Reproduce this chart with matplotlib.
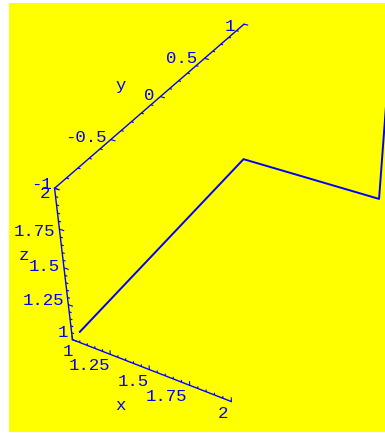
import numpy as np
import matplotlib
matplotlib.use('Agg')
import matplotlib.pyplot as plt
from matplotlib.patches import Rectangle
from matplotlib.transforms import offset_copy
from mpl_toolkits.mplot3d import proj3d
from mpl_toolkits.mplot3d.art3d import Line3DCollection

# polyline through space
curve_x = [1.0, 1.0, 2.0, 2.0]
curve_y = [-0.93, 1.0, 1.0, 0.96]
curve_z = [1.0, 1.0, 1.0, 2.0]

# axis ranges and tick labels
x_range = (1, 2)
y_range = (-1, 1)
z_range = (1, 2)
x_ticks = [1, 1.25, 1.5, 1.75, 2]
x_labels = ['1', '1.25', '1.5', '1.75', '2']
y_ticks = [-1, -0.5, 0, 0.5, 1]
y_labels = ['-1', '-0.5', '0', '0.5', '1']
z_ticks = [1, 1.25, 1.5, 1.75, 2]
z_labels = ['1', '1.25', '1.5', '1.75', '2']

BLUE = '#0000ff'
W, H = 385, 435

fig = plt.figure(figsize=(W / 100, H / 100), dpi=100, facecolor='white')
fig.patches.append(Rectangle((9 / W, 2 / H), 376 / W, 429 / H, transform=fig.transFigure,
                             facecolor='#ffff00', edgecolor='none', zorder=-5))

ax = fig.add_axes([0.05898, 0.05549, 1.09033, 0.96501], projection='3d')
ax.set_axis_off()
ax.set_facecolor('none')
ax.set_xlim(*x_range)
ax.set_ylim(*y_range)
ax.set_zlim(*z_range)
ax.view_init(35.505, -62.083, 0)
ax.set_proj_type('persp', focal_length=0.4865)
ax.set_box_aspect((1, 2.0422, 1.0276))

# the curve
ax.plot(curve_x, curve_y, curve_z, color=BLUE, lw=1.4, clip_on=False)

# axes along the box edges
x0, x1 = x_range
y0, y1 = y_range
z0, z1 = z_range
ax.plot([x0, x1], [y0, y0], [z0, z0], color=BLUE, lw=1.0, clip_on=False)
ax.plot([x0, x0], [y0, y1], [z1, z1], color=BLUE, lw=1.0, clip_on=False)
ax.plot([x0, x0], [y0, y0], [z0, z1], color=BLUE, lw=1.0, clip_on=False)

# tick marks: majors at the labels, four minors in between
segs = []
for v in np.arange(x0, x1 + 1e-9, 0.05):
    ln = 0.03 if np.isclose((v - x0) / 0.25, round((v - x0) / 0.25)) else 0.016
    segs.append([(v, y0, z0), (v, y0, z0 + ln)])
for v in np.arange(y0, y1 + 1e-9, 0.1):
    ln = 0.03 if np.isclose((v - y0) / 0.5, round((v - y0) / 0.5)) else 0.016
    segs.append([(x0, v, z1), (x0 + ln, v, z1)])
for v in np.arange(z0, z1 + 1e-9, 0.05):
    ln = 0.03 if np.isclose((v - z0) / 0.25, round((v - z0) / 0.25)) else 0.016
    segs.append([(x0, y0, v), (x0 + ln, y0, v)])
ax.add_collection3d(Line3DCollection(segs, colors=BLUE, linewidths=0.8))

font = dict(family='Liberation Mono', size=12.5, color=BLUE)
M = ax.get_proj()


def put(x, y, z, s, dx, dy, ha='right'):
    # project the anchor point, then nudge the label by a few pixels
    px, py, _ = proj3d.proj_transform(np.atleast_1d(x), np.atleast_1d(y), np.atleast_1d(z), M)
    tr = offset_copy(ax.transData, fig=fig, x=dx, y=dy, units='dots')
    ax.text2D(float(px[0]), float(py[0]), s, transform=tr, ha=ha, va='center', **font)


for v, s in zip(x_ticks, x_labels):
    t = (v - x0) / (x1 - x0)
    put(v, y0, z0, s, 1 - 4 * t, -10.5)
for v, s in zip(y_ticks, y_labels):
    t = (v - y0) / (y1 - y0)
    put(x0, v, z1, s, -3 - 6 * t, 5 - 6 * t)
for v, s in zip(z_ticks, z_labels):
    t = (v - z0) / (z1 - z0)
    put(x0, y0, v, s, -4.5, 8.5 - 13 * t)

put((x0 + x1) / 2, y0, z0, 'x', -28.6, -35.4, ha='center')
put(x0, (y0 + y1) / 2, z1, 'y', -39.6, 12, ha='center')
put(x0, y0, (z0 + z1) / 2, 'z', -40, 13.8, ha='center')

fig.savefig('out.png', dpi=100, facecolor=fig.get_facecolor())
